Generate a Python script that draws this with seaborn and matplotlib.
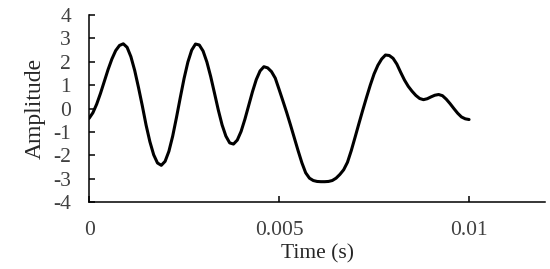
import numpy as np
import pandas as pd
import matplotlib
matplotlib.use("Agg")
import matplotlib.pyplot as plt
import seaborn as sns

# Amplitude, one sample every 0.1 ms from 0 to 10 ms
sample_step_ms = 0.1
amplitude = [
    -0.42, -0.18, 0.19, 0.65, 1.16, 1.67, 2.12, 2.48, 2.70, 2.77,   # 0.0 - 0.9
    2.62, 2.22, 1.63, 0.90, 0.12, -0.71, -1.42, -1.98, -2.33, -2.43,  # 1.0 - 1.9
    -2.26, -1.83, -1.18, -0.38, 0.47, 1.29, 1.99, 2.50, 2.76, 2.72,   # 2.0 - 2.9
    2.46, 1.99, 1.37, 0.66, -0.06, -0.70, -1.18, -1.47, -1.52, -1.35,  # 3.0 - 3.9
    -0.98, -0.46, 0.13, 0.72, 1.24, 1.61, 1.79, 1.74, 1.58, 1.30,     # 4.0 - 4.9
    0.82, 0.33, -0.17, -0.70, -1.25, -1.80, -2.32, -2.75, -2.98, -3.08,  # 5.0 - 5.9
    -3.12, -3.13, -3.13, -3.12, -3.08, -2.98, -2.82, -2.62, -2.30, -1.80,  # 6.0 - 6.9
    -1.23, -0.65, -0.08, 0.47, 1.00, 1.48, 1.85, 2.12, 2.29, 2.27,    # 7.0 - 7.9
    2.15, 1.90, 1.55, 1.22, 0.95, 0.74, 0.56, 0.43, 0.38, 0.42,       # 8.0 - 8.9
    0.50, 0.57, 0.60, 0.55, 0.40, 0.21, 0.00, -0.20, -0.36, -0.44,    # 9.0 - 9.9
    -0.47,                                                           # 10.0
]

x_ticks = [0, 0.005, 0.01]
x_tick_labels = ["0", "0.005", "0.01"]
y_ticks = [-4, -3, -2, -1, 0, 1, 2, 3, 4]

time_s = np.arange(len(amplitude)) * sample_step_ms / 1000.0
df = pd.DataFrame({"Time": time_s, "Amplitude": amplitude})

sns.set_style("ticks")
plt.rcParams["font.family"] = ["Liberation Serif", "DejaVu Serif"]
plt.rcParams["axes.unicode_minus"] = False

fig, ax = plt.subplots(figsize=(5.5, 2.69), dpi=100)
fig.subplots_adjust(left=0.162, right=0.991, top=0.944, bottom=0.249)

sns.lineplot(data=df, x="Time", y="Amplitude", color="black", linewidth=2.2, ax=ax,
             estimator=None, sort=False)
ax.lines[0].set_solid_joinstyle("round")
ax.lines[0].set_solid_capstyle("round")

ax.set_xlim(0, 0.012)
ax.set_ylim(-4, 4)
ax.set_xticks(x_ticks)
ax.set_xticklabels(x_tick_labels)
ax.set_yticks(y_ticks)
ax.tick_params(axis="both", direction="in", length=4, width=1.1, labelsize=15.5,
               colors="black", labelcolor="#404040")
ax.tick_params(axis="x", pad=14)
ax.tick_params(axis="y", pad=13)
for s in ["left", "bottom"]:
    ax.spines[s].set_linewidth(1.1)
    ax.spines[s].set_color("black")
sns.despine(ax=ax)

ax.set_xlabel("Time (s)", fontsize=15.5, labelpad=2.5)
ax.set_ylabel("Amplitude", fontsize=17, labelpad=5)

plt.savefig("out.png", dpi=100)
